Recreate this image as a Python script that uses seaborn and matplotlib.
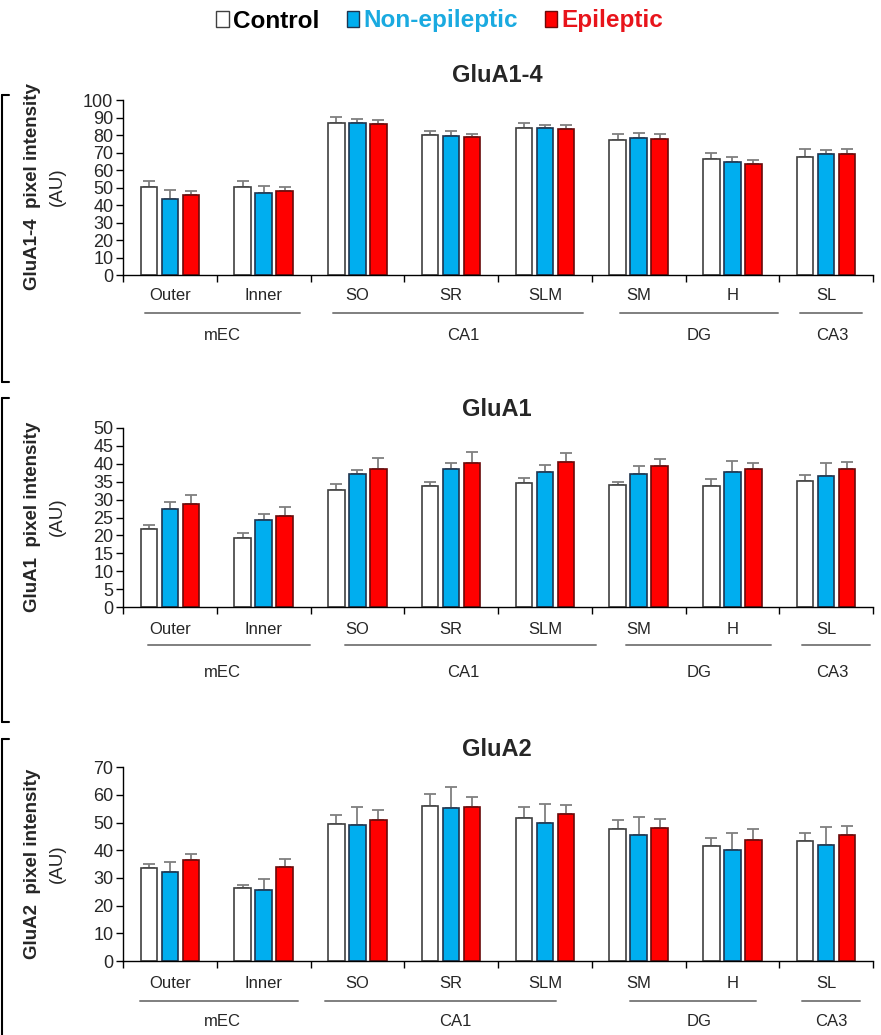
import numpy as np
import pandas as pd
import matplotlib
matplotlib.use("Agg")
import matplotlib.pyplot as plt
import matplotlib.transforms as mtransforms
from matplotlib.patches import Patch
from matplotlib.lines import Line2D
import seaborn as sns

# ---------------- data ----------------
layers = ["Outer", "Inner", "SO", "SR", "SLM", "SM", "H", "SL"]
groups = ["Control", "Non-epileptic", "Epileptic"]
regions = ["mEC", "CA1", "DG", "CA3"]
titles = ["GluA1-4", "GluA1", "GluA2"]
ylabels = ["GluA1-4  pixel intensity", "GluA1  pixel intensity", "GluA2  pixel intensity"]

glua14_control = [50.3, 50.3, 87.1, 80.1, 83.9, 77.2, 66.2, 67.7]
glua14_nonepi = [43.6, 47.1, 87.1, 79.5, 83.9, 78.4, 64.5, 69.4]
glua14_epi = [45.7, 48.2, 86.5, 78.9, 83.3, 77.8, 63.4, 69.4]
glua14_control_sem = [3.2, 3.2, 3.4, 2.3, 3.2, 3.4, 3.4, 4.4]
glua14_nonepi_sem = [4.8, 3.8, 2.1, 2.9, 1.7, 2.6, 2.9, 1.8]
glua14_epi_sem = [2.5, 1.9, 2.1, 1.7, 2.3, 2.8, 2.3, 2.7]

glua1_control = [21.8, 19.2, 32.6, 33.8, 34.5, 34.0, 33.8, 35.1]
glua1_nonepi = [27.3, 24.2, 37.0, 38.6, 37.8, 37.0, 37.8, 36.6]
glua1_epi = [28.8, 25.3, 38.6, 40.2, 40.4, 39.3, 38.6, 38.6]
glua1_control_sem = [1.1, 1.4, 1.6, 1.2, 1.4, 0.8, 1.8, 1.8]
glua1_nonepi_sem = [2.1, 1.7, 1.3, 1.6, 1.8, 2.3, 2.9, 3.6]
glua1_epi_sem = [2.6, 2.7, 2.9, 2.9, 2.5, 1.9, 1.6, 1.8]

glua2_control = [33.5, 26.3, 49.4, 56.0, 51.6, 47.6, 41.7, 43.4]
glua2_nonepi = [32.2, 25.5, 49.0, 55.3, 49.8, 45.5, 40.2, 42.0]
glua2_epi = [36.4, 33.9, 51.1, 55.7, 53.3, 48.0, 43.7, 45.5]
glua2_control_sem = [1.4, 1.0, 3.4, 4.2, 3.9, 3.2, 2.8, 2.7]
glua2_nonepi_sem = [3.7, 4.3, 6.5, 7.7, 6.8, 6.4, 5.9, 6.4]
glua2_epi_sem = [2.4, 3.1, 3.5, 3.7, 3.0, 3.2, 3.9, 3.2]

y_max = [100, 50, 70]
y_step = [10, 5, 10]

panels = [
    ([glua14_control, glua14_nonepi, glua14_epi],
     [glua14_control_sem, glua14_nonepi_sem, glua14_epi_sem]),
    ([glua1_control, glua1_nonepi, glua1_epi],
     [glua1_control_sem, glua1_nonepi_sem, glua1_epi_sem]),
    ([glua2_control, glua2_nonepi, glua2_epi],
     [glua2_control_sem, glua2_nonepi_sem, glua2_epi_sem]),
]

# ---------------- style ----------------
sns.set_style("white")
plt.rcParams["font.family"] = ["Liberation Sans", "DejaVu Sans"]
NARROW = ["Liberation Sans Narrow", "Liberation Sans", "DejaVu Sans"]

fills = ["#FFFFFF", "#00AEEF", "#FF0000"]
edges = ["#404040", "#1F3550", "#6A0A0A"]
legend_text_colors = ["#000000", "#1AAAE0", "#E8141B"]

W, H = 881, 1035
fig = plt.figure(figsize=(W / 100, H / 100), dpi=100)

def fy(px):
    return 1 - px / H

# axes pixel boxes: (top, bottom)
boxes = [(100, 275), (427.7, 607.3), (767.3, 961)]
ax_left, ax_right = 123, 873
title_y = [76, 410, 749]
ylabel_center = [187, 517, 864]
# label offsets below axis (px): layer labels, group line, group label
offs = [(21, 38, 60), (22, 38, 65), (22, 40, 61)]
# group line spans in category units
group_spans = [
    [(-0.27, 1.39), (1.74, 4.41), (4.80, 6.49), (6.72, 7.38)],
    [(-0.23, 1.49), (1.87, 4.55), (4.87, 6.41), (6.74, 7.47)],
    [(-0.32, 1.37), (1.65, 4.12), (4.91, 6.25), (6.74, 7.36)],
]
group_label_x = [
    [0.56, 3.13, 5.65, 7.07],
    [0.56, 3.13, 5.65, 7.07],
    [0.56, 3.05, 5.65, 7.05],
]
brackets = [(95, 382), (398, 722), (739, 1040)]

for p, (means, sems) in enumerate(panels):
    top, bot = boxes[p]
    ax = fig.add_axes([ax_left / W, fy(bot), (ax_right - ax_left) / W, (bot - top) / H])
    rows = []
    for g, vals in zip(groups, means):
        for l, v in zip(layers, vals):
            rows.append({"layer": l, "group": g, "value": v})
    df = pd.DataFrame(rows)
    sns.barplot(data=df, x="layer", y="value", hue="group", order=layers,
                hue_order=groups, palette=fills, saturation=1, width=0.67, gap=0.21,
                errorbar=None, legend=False, ax=ax, linewidth=1.2)
    bar_conts = list(ax.containers)
    for i, cont in enumerate(bar_conts):
        xs = []
        for bar in cont:
            bar.set_edgecolor(edges[i])
            bar.set_linewidth(1.2)
            bar.set_zorder(2)
            xs.append(bar.get_x() + bar.get_width() / 2)
        ax.errorbar(xs, means[i], yerr=[np.zeros(len(layers)), sems[i]],
                    fmt="none", ecolor="#7F7F7F", elinewidth=1.3,
                    capsize=4, capthick=1.3, zorder=1)

    ax.set_xlim(-0.5, len(layers) - 0.5)
    ax.set_ylim(0, y_max[p])
    ax.set_yticks(np.arange(0, y_max[p] + 0.1, y_step[p]))
    ax.set_yticklabels([str(int(v)) for v in np.arange(0, y_max[p] + 0.1, y_step[p])],
                       fontsize=13)
    ax.set_xticks(np.arange(-0.5, len(layers), 1.0))
    ax.set_xticklabels([])
    ax.tick_params(axis="both", direction="out", length=5, width=1, color="black",
                   bottom=True, left=True, pad=2)
    ax.set_xlabel("")
    ax.set_ylabel("")
    for s in ["top", "right"]:
        ax.spines[s].set_visible(False)
    for s in ["left", "bottom"]:
        ax.spines[s].set_color("black")
        ax.spines[s].set_linewidth(1.0)

    trans = mtransforms.blended_transform_factory(ax.transData, fig.transFigure)
    o1, o2, o3 = offs[p]
    for i, l in enumerate(layers):
        ax.text(i, fy(bot + o1), l, transform=trans, ha="center", va="center",
                fontsize=12, family=NARROW)
    for (x0, x1) in group_spans[p]:
        ax.add_line(Line2D([x0, x1], [fy(bot + o2)] * 2, transform=trans,
                           color="#7F7F7F", lw=1.4, clip_on=False))
    for r, gx in zip(regions, group_label_x[p]):
        ax.text(gx, fy(bot + o3), r, transform=trans, ha="center", va="center",
                fontsize=12, family=NARROW)

    fig.text(497 / W, fy(title_y[p]), titles[p], ha="center", va="center",
             fontsize=17, fontweight="bold")
    fig.text(33 / W, fy(ylabel_center[p]), ylabels[p], rotation=90, ha="center",
             va="center", fontsize=13.5, fontweight="bold")
    fig.text(57 / W, fy(ylabel_center[p]), "(AU)", rotation=90, ha="center",
             va="center", fontsize=13.5)

    b0, b1 = brackets[p]
    fig.add_artist(Line2D([2 / W, 2 / W], [fy(b0), fy(b1)], transform=fig.transFigure,
                          color="black", lw=1.5))
    fig.add_artist(Line2D([2 / W, 9 / W], [fy(b0), fy(b0)], transform=fig.transFigure,
                          color="black", lw=1.5))
    fig.add_artist(Line2D([2 / W, 9 / W], [fy(b1), fy(b1)], transform=fig.transFigure,
                          color="black", lw=1.5))

# legend
handles = [Patch(facecolor=fills[i], edgecolor=edges[i], linewidth=1.0) for i in range(3)]
leg = fig.legend(handles, groups, loc="center", bbox_to_anchor=(440 / W, fy(21)),
                 ncol=3, frameon=False, handlelength=0.5, handleheight=0.6,
                 handletextpad=0.2, columnspacing=1.1,
                 prop={"family": NARROW, "weight": "bold", "size": 17.5},
                 labelcolor=legend_text_colors)

fig.savefig("out.png", dpi=100, facecolor="white")
